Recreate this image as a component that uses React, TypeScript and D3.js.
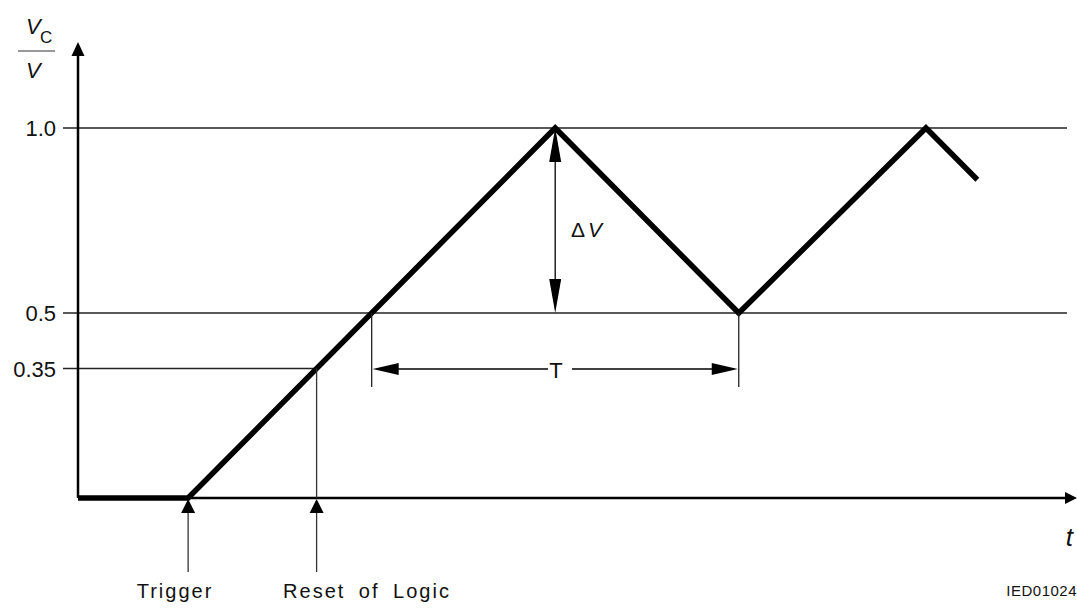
import React from "react";
import * as d3 from "d3";

// waveform: time (ramp units) / voltage ratio
const waveT = [0, 0.3, 1.3, 1.8, 2.31, 2.45];
const waveV = [0, 0, 1.0, 0.5, 1.0, 0.86];
const levelTicks = [1.0, 0.5, 0.35];
const levelLabels = ["1.0", "0.5", "0.35"];
const triggerT = 0.3;
const resetT = 0.65;
const crossT = 0.8;
const valleyT = 1.8;
const peakT = 1.3;

const W = 1077;
const H = 610;

// arrow head polygon with tip at (x, y), pointing along angle (deg)
function head(x: number, y: number, angle: number, len: number, wid: number) {
  const a = (angle * Math.PI) / 180;
  const ux = Math.cos(a), uy = Math.sin(a);
  const bx = x - ux * len, by = y - uy * len;
  const px = -uy * (wid / 2), py = ux * (wid / 2);
  return `${x},${y} ${bx + px},${by + py} ${bx - px},${by - py}`;
}

export default function App() {
  const x = d3.scaleLinear().domain([0, 2.716]).range([78, 1075]);
  const y = d3.scaleLinear().domain([0, 1]).range([498, 128]);

  const line = d3
    .line<number>()
    .x((d, i) => x(waveT[i]))
    .y((d) => y(d));

  const font = "'Liberation Sans', Arial, sans-serif";
  const ink = "#000";
  const midDV = (y(1) + y(0.5)) / 2;

  return (
    <svg width={W} height={H} style={{ position: "absolute", left: 0, top: 0, background: "#fff" }}>
      {/* level lines */}
      {levelTicks.map((v, i) => (
        <g key={v}>
          <line
            x1={63}
            x2={v === 0.35 ? x(resetT) : 1067}
            y1={y(v)}
            y2={y(v)}
            stroke="#222"
            strokeWidth={1.3}
          />
          <text x={56} y={y(v) + 8} textAnchor="end" fontFamily={font} fontSize={22} fill="#111">
            {levelLabels[i]}
          </text>
        </g>
      ))}

      {/* axes */}
      <line x1={x(0)} y1={y(0)} x2={x(0)} y2={50} stroke={ink} strokeWidth={2.5} />
      <polygon points={head(x(0), 42, -90, 14, 13)} fill={ink} />
      <line x1={x(0)} y1={y(0)} x2={1068} y2={y(0)} stroke={ink} strokeWidth={2.5} />
      <polygon points={head(1077, y(0), 0, 12, 12)} fill={ink} />

      {/* y label */}
      <text x={26} y={34} fontFamily={font} fontSize={22} fontStyle="italic" fill="#111">V</text>
      <text x={40} y={43} fontFamily={font} fontSize={17} fill="#111">C</text>
      <line x1={18} x2={55} y1={51} y2={51} stroke="#333" strokeWidth={1.2} />
      <text x={26} y={78} fontFamily={font} fontSize={22} fontStyle="italic" fill="#111">V</text>

      {/* t label */}
      <text x={1073} y={546} textAnchor="end" fontFamily={font} fontSize={26} fontStyle="italic" fill="#111">t</text>

      {/* waveform */}
      <path d={line(waveV) || ""} fill="none" stroke={ink} strokeWidth={5.5} strokeLinejoin="miter" />

      {/* delta V */}
      <line x1={x(peakT)} x2={x(peakT)} y1={y(1) + 20} y2={y(0.5) - 20} stroke={ink} strokeWidth={1.3} />
      <polygon points={head(x(peakT), y(1), -90, 34, 12)} fill={ink} />
      <polygon points={head(x(peakT), y(0.5), 90, 34, 12)} fill={ink} />
      <text x={571} y={237} fontFamily={font} fontSize={21} fill="#111" letterSpacing={3}>
        Δ<tspan fontStyle="italic">V</tspan>
      </text>

      {/* T */}
      <line x1={x(crossT)} x2={x(crossT)} y1={y(0.5)} y2={387} stroke="#222" strokeWidth={1.3} />
      <line x1={x(valleyT)} x2={x(valleyT)} y1={y(0.5)} y2={387} stroke="#222" strokeWidth={1.3} />
      <line x1={548} x2={x(crossT) + 10} y1={369} y2={369} stroke={ink} strokeWidth={1.3} />
      <line x1={572} x2={x(valleyT) - 10} y1={369} y2={369} stroke={ink} strokeWidth={1.3} />
      <polygon points={head(x(crossT) + 1, 369, 180, 26, 12)} fill={ink} />
      <polygon points={head(x(valleyT) - 1, 369, 0, 26, 12)} fill={ink} />
      <text x={556} y={378} textAnchor="middle" fontFamily={font} fontSize={22} fill="#111">T</text>

      {/* trigger & reset arrows */}
      <line x1={x(triggerT)} x2={x(triggerT)} y1={572} y2={y(0) + 10} stroke="#333" strokeWidth={1.3} />
      <polygon points={head(x(triggerT), y(0) + 1, -90, 14, 14)} fill={ink} />
      <line x1={x(resetT)} x2={x(resetT)} y1={y(0.35)} y2={y(0)} stroke="#333" strokeWidth={1.3} />
      <line x1={x(resetT)} x2={x(resetT)} y1={572} y2={y(0) + 10} stroke="#333" strokeWidth={1.3} />
      <polygon points={head(x(resetT), y(0) + 1, -90, 14, 14)} fill={ink} />
      <text x={175} y={598} textAnchor="middle" fontFamily={font} fontSize={20} letterSpacing={2} fill="#111">Trigger</text>
      <text x={367} y={598} textAnchor="middle" fontFamily={font} fontSize={20} letterSpacing={2} fill="#111" style={{ wordSpacing: 6 }}>Reset of Logic</text>
      <text x={1077} y={596} textAnchor="end" fontFamily={font} fontSize={15} letterSpacing={0.5} fill="#111">IED01024</text>
    </svg>
  );
}
